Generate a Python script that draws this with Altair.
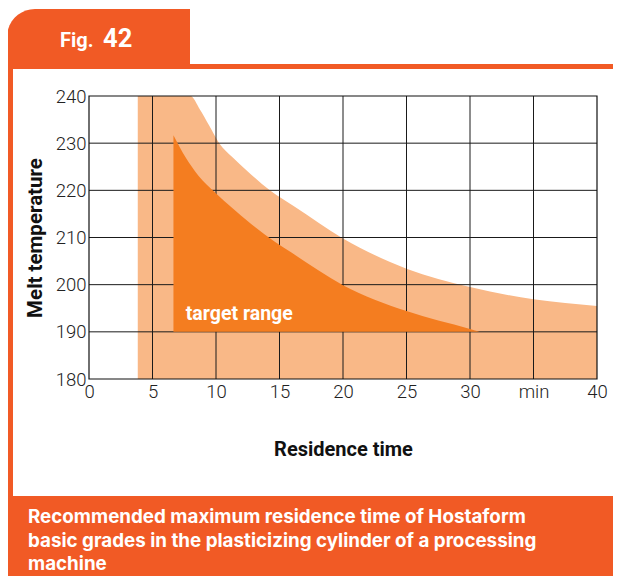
import altair as alt
import pandas as pd

# ---- data ----
x_ticks = [0, 5, 10, 15, 20, 25, 30, 35, 40]
y_ticks = [180, 190, 200, 210, 220, 230, 240]
grid_x = [5, 10, 15, 20, 25, 30, 35]
grid_y = [190, 200, 210, 220, 230]

band_x = [3.84, 7.99, 8.72, 9.45, 10.25, 11.3, 12.5, 14.24, 16.2, 20, 25, 30, 35, 40]
band_top = [240, 240, 237.2, 233.8, 230, 227, 224, 220, 216.5, 209.8, 203.4, 199.5, 196.9, 195.5]

target_x = [6.65, 7.6, 8.65, 9.9, 11.35, 12.53, 14.63, 15.94, 20, 25, 30, 30.77]
target_top = [231.7, 227, 223, 219.6, 216.1, 213.4, 209.1, 206.8, 199.9, 194.4, 190.6, 190]

caption = ["Recommended maximum residence time of Hostaform",
           "basic grades in the plasticizing cylinder of a processing",
           "machine"]

ORANGE = "#F15A25"
LIGHT = "#F9B887"
DARK = "#F47D20"
W, H = 508, 283
BOLD_FONT = "Roboto"
TICK_FONT = "Roboto"

xs = alt.Scale(domain=[0, 40], nice=False, zero=False)
ys = alt.Scale(domain=[180, 240], nice=False, zero=False)

band_df = pd.DataFrame({"x": band_x, "top": band_top, "low": [180] * len(band_x)})
target_df = pd.DataFrame({"x": target_x, "top": target_top, "low": [190] * len(target_x)})
one = alt.Data(values=[{}])

x_axis = alt.Axis(values=x_ticks, labelExpr="datum.value == 35 ? 'min' : datum.label",
                  ticks=False, domain=False, grid=False, labelFont=TICK_FONT,
                  labelFontSize=18.5, labelFontWeight=300, labelColor="#222",
                  labelPadding=3, labelFlush=False,
                  title="Residence time", titleFont=BOLD_FONT, titleFontSize=20,
                  titleFontWeight="bold", titleColor="#111", titleY=70,
                  titleBaseline="middle")
y_axis = alt.Axis(values=y_ticks, ticks=False, domain=False, grid=False,
                  labelFont=TICK_FONT, labelFontSize=18.5, labelFontWeight=300,
                  labelColor="#222", labelPadding=3, labelFlush=False,
                  title="Melt temperature", titleFont=BOLD_FONT, titleFontSize=20.5,
                  titleFontWeight="bold", titleColor="#111", titleX=-54,
                  titleBaseline="middle")

# decorations (frame of the figure)
tab = alt.Chart(one).mark_rect(color=ORANGE, cornerRadiusTopLeft=28).encode(
    x=alt.value(-82), x2=alt.value(101), y=alt.value(-87), y2=alt.value(-27))
hline = alt.Chart(one).mark_rect(color=ORANGE).encode(
    x=alt.value(-82), x2=alt.value(540), y=alt.value(-32), y2=alt.value(-27))
vline = alt.Chart(one).mark_rect(color=ORANGE).encode(
    x=alt.value(-82), x2=alt.value(-76), y=alt.value(-32), y2=alt.value(495))
bottom = alt.Chart(one).mark_rect(color=ORANGE).encode(
    x=alt.value(-82), x2=alt.value(540), y=alt.value(400), y2=alt.value(495))
fig_txt = alt.Chart(one).mark_text(text="Fig.", font=BOLD_FONT, fontSize=20, fontWeight="bold",
                                   color="white", align="left", baseline="alphabetic").encode(
    x=alt.value(-29), y=alt.value(-49.5))
num_txt = alt.Chart(one).mark_text(text="42", font=BOLD_FONT, fontSize=25.5, fontWeight="bold",
                                   color="white", align="left", baseline="alphabetic").encode(
    x=alt.value(14), y=alt.value(-49.5))
cap_txt = alt.Chart(one).mark_text(text=caption, font="Inter", fontSize=18.8,
                                   fontWeight="bold", color="white", align="left",
                                   baseline="middle", lineHeight=23.5).encode(
    x=alt.value(-61), y=alt.value(421))

band = alt.Chart(band_df).mark_area(color=LIGHT, interpolate="monotone").encode(
    x=alt.X("x:Q", scale=xs, axis=x_axis),
    y=alt.Y("top:Q", scale=ys, axis=y_axis),
    y2="low:Q")
vgrid = alt.Chart(pd.DataFrame({"v": grid_x})).mark_rule(color="#1a1a1a", strokeWidth=1).encode(
    x=alt.X("v:Q", scale=xs))
hgrid = alt.Chart(pd.DataFrame({"v": grid_y})).mark_rule(color="#1a1a1a", strokeWidth=1).encode(
    y=alt.Y("v:Q", scale=ys))
target = alt.Chart(target_df).mark_area(color=DARK, interpolate="monotone").encode(
    x=alt.X("x:Q", scale=xs), y=alt.Y("top:Q", scale=ys), y2="low:Q")
label = alt.Chart(one).mark_text(text="target range", font=BOLD_FONT, fontSize=19.5,
                                 fontWeight="bold", color="white", align="left",
                                 baseline="alphabetic").encode(
    x=alt.datum(7.62, scale=xs), y=alt.datum(192.5, scale=ys))
frame = alt.Chart(one).mark_rect(filled=False, stroke="#111", strokeWidth=1.2).encode(
    x=alt.datum(0, scale=xs), x2=alt.datum(40), y=alt.datum(180, scale=ys), y2=alt.datum(240))

chart = alt.layer(tab, hline, vline, bottom, fig_txt, num_txt, cap_txt,
                  band, vgrid, hgrid, target, label, frame).properties(
    width=W, height=H,
    autosize=alt.AutoSizeParams(type="none"),
    padding={"left": 81, "top": 88, "right": 16, "bottom": 197},
    background="white",
).configure_view(stroke=None)

chart.save("out.html", embed_options={"renderer": "svg", "actions": False})
